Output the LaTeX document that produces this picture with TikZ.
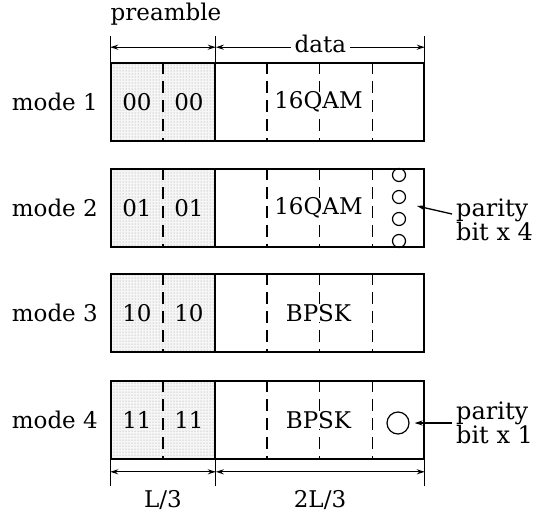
\documentclass[tikz,border=0pt]{standalone}
\usepackage{fontspec}
\setmainfont{DejaVu Serif}
\usetikzlibrary{arrows.meta,patterns,calc}
\begin{document}
\begin{tikzpicture}[x=1pt,y=-1pt,
  seg/.style={draw, line width=1.6pt, inner sep=0pt, minimum height=78pt},
  pre/.style={seg, minimum width=104pt, preaction={fill=gray!7}, pattern=dots, pattern color=gray!80},
  dat/.style={seg, minimum width=209pt},
  dsh/.style={line width=1.3pt, dash pattern=on 12pt off 7pt},
  txt/.style={font=\fontsize{23}{21}\selectfont, inner sep=0pt},
  lbl/.style={font=\fontsize{24}{21}\selectfont, inner sep=0pt, align=left, anchor=west},
  dim/.style={line width=1.3pt, {Stealth[length=8pt,width=5pt]}-{Stealth[length=8pt,width=5pt]}},
  tick/.style={line width=1.3pt},
  ptr/.style={line width=1.3pt, -{Stealth[length=8pt,width=5pt]}},
  bit/.style={draw, circle, line width=1.2pt, inner sep=0pt}
]
\useasboundingbox (0,0) rectangle (538,515);

\foreach \i/\y/\c/\m in {1/102/00/16QAM, 2/208/01/16QAM, 3/313/10/BPSK, 4/420/11/BPSK}{
  \node[pre] (p\i) at (163,\y) {};
  \node[dat] (d\i) at (319.5,\y) {};
  \draw[dsh] (p\i.north) -- (p\i.south);
  \foreach \f in {0.25,0.5,0.75}{
    \draw[dsh] ($(d\i.north west)!\f!(d\i.north east)$) -- ($(d\i.south west)!\f!(d\i.south east)$);
  }
  \node[txt, anchor=east] (m\i) at (98,\y) {mode \i};
  \node[txt] (a\i) at ($(p\i.center)+(-26,0)$) {\c};
  \node[txt] (b\i) at ($(p\i.center)+(26,0)$) {\c};
  \node[txt, fill=white] (q\i) at ($(d\i.center)+(-1,0)$) {\m};
}

% top dimension
\node[txt] (pre) at (166,14) {preamble};
\draw[tick] (p1.north west) -- ++(0,-26);
\draw[tick] (p1.north east) -- ++(0,-26);
\draw[tick] (d1.north east) -- ++(0,-26);
\coordinate (ua) at ($(p1.north west)+(0,-15)$);
\coordinate (ub) at ($(p1.north east)+(0,-15)$);
\coordinate (uc) at ($(d1.north east)+(0,-15)$);
\draw[dim] (ua) -- (ub);
\draw[dim] (ub) -- (uc);
\node[txt, fill=white, inner xsep=4pt, inner ysep=1pt] (data) at ($(ub)!0.5!(uc)+(0,-3)$) {data};

% bottom dimension
\draw[tick] (p4.south west) -- ++(0,26);
\draw[tick] (p4.south east) -- ++(0,26);
\draw[tick] (d4.south east) -- ++(0,26);
\coordinate (la) at ($(p4.south west)+(0,12)$);
\coordinate (lb) at ($(p4.south east)+(0,12)$);
\coordinate (lc) at ($(d4.south east)+(0,12)$);
\draw[dim] (la) -- (lb);
\draw[dim] (lb) -- (lc);
\node[txt] (l3) at (163,500) {L/3};
\node[txt] (l23) at (320,500) {2L/3};

% parity bits row 2
\foreach \n/\yy in {a/175,b/197,c/219,d/241}{
  \node[bit, minimum size=13pt] (c2\n) at (399,\yy) {};
}
\node[lbl] (lab2) at (456,220) {parity\\bit x 4};
\coordinate (k2) at (417,206);
\draw[ptr] ($(lab2.west)+(-4,-6)$) -- (k2);

% parity bit row 4
\node[bit, minimum size=22pt] (c4) at (398,423) {};
\node[lbl] (lab4) at (456,423) {parity\\bit x 1};
\draw[ptr] ($(lab4.west)+(-4,0)$) -- ($(c4.east)+(5,0)$);
\end{tikzpicture}
\end{document}
